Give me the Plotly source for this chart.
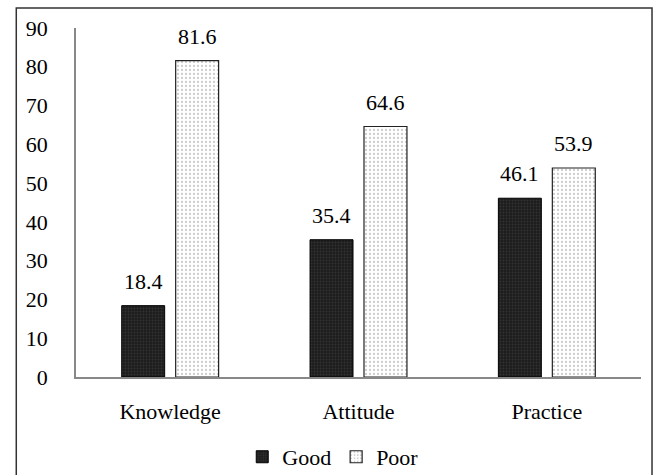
import plotly.graph_objects as go

categories = ["Knowledge", "Attitude", "Practice"]
good = [18.4, 35.4, 46.1]
poor = [81.6, 64.6, 53.9]
series_names = ["Good", "Poor"]
y_ticks = [0, 10, 20, 30, 40, 50, 60, 70, 80, 90]

FONT = "'Liberation Serif', 'Times New Roman', 'DejaVu Serif', serif"
FS = 22

fig = go.Figure()
fig.add_trace(go.Bar(
    x=categories, y=good, name=series_names[0],
    marker=dict(color="#1c1c1c", line=dict(color="#000000", width=1),
                pattern=dict(shape=".", fgcolor="#4a4a4a", bgcolor="#1c1c1c", size=3, solidity=0.3)),
))
fig.add_trace(go.Bar(
    x=categories, y=poor, name=series_names[1],
    marker=dict(color="#ffffff", line=dict(color="#222222", width=1.2),
                pattern=dict(shape=".", fgcolor="#9a9a9a", bgcolor="#ffffff", size=4, solidity=0.25)),
))

# value labels above bars
annotations = []
for vals, shift in ((good, -27), (poor, 27)):
    for c, v in zip(categories, vals):
        annotations.append(dict(x=c, y=v, xref="x", yref="y", text=f"{v}",
                                showarrow=False, xshift=shift, yshift=10,
                                yanchor="bottom", font=dict(family=FONT, size=FS, color="#000")))

fig.update_layout(
    width=656, height=475,
    margin=dict(l=76, r=15, t=28, b=98, autoexpand=False),
    paper_bgcolor="white", plot_bgcolor="white",
    barmode="group", bargap=0.427, bargroupgap=0.204,
    font=dict(family=FONT, size=FS, color="#000"),
    showlegend=True,
    legend=dict(orientation="h", xref="container", yref="container",
                x=0.508, xanchor="center", y=0.038, yanchor="middle",
                bgcolor="rgba(0,0,0,0)",
                font=dict(family=FONT, size=FS, color="#000"), itemwidth=30, traceorder="normal"),
    annotations=annotations,
    shapes=[dict(type="rect", xref="paper", yref="paper", x0=-0.1057, x1=1.0195,
                 y0=-0.2837, y1=1.0573, line=dict(color="#333333", width=1.5), layer="below")],
)
fig.update_yaxes(range=[0, 90], tickvals=y_ticks, showgrid=False, zeroline=False,
                 showline=True, linecolor="#888888", linewidth=1.5, ticks="",
                 ticklabelstandoff=22, tickfont=dict(family=FONT, size=FS))
fig.update_xaxes(showgrid=False, showline=True, linecolor="#888888", linewidth=1.5,
                 ticks="", ticklabelstandoff=14, tickfont=dict(family=FONT, size=FS))

fig.write_html("out.html")
